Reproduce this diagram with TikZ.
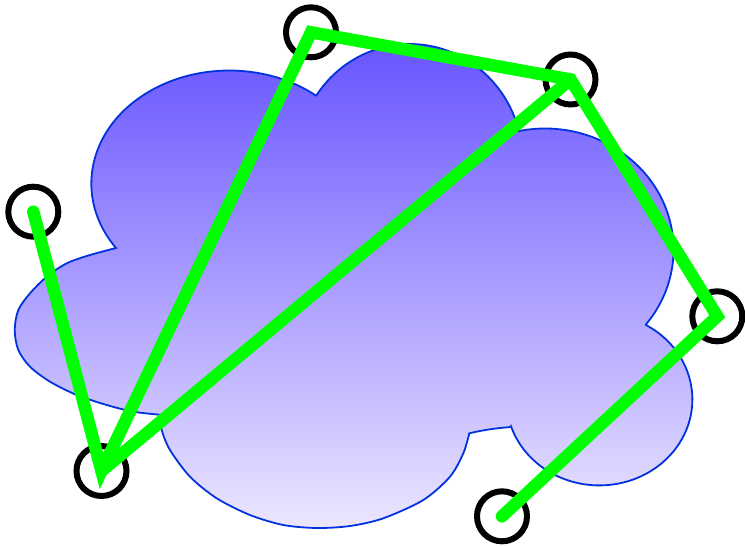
\documentclass[tikz,border=0pt]{standalone}
\definecolor{cloudtop}{RGB}{100,80,255}
\definecolor{cloudbot}{RGB}{236,230,255}
\definecolor{cloudline}{RGB}{0,51,221}
\definecolor{linegreen}{RGB}{0,255,0}
\begin{document}
\begin{tikzpicture}[x=1pt,y=-1pt,
  marker/.style={circle, draw=black, line width=6pt, minimum size=50pt, inner sep=0pt},
  greenline/.style={draw=linegreen, line width=12.5pt, line join=miter, line cap=round},
  cloudstyle/.style={draw=cloudline, line width=1.8pt, top color=cloudtop, bottom color=cloudbot}]
\fill[white] (0,0) rectangle (745,546);
\useasboundingbox (0,0) rectangle (745,546);
% cloud
\shadedraw[cloudstyle] (116,248)
  arc[start angle=214.8, end angle=51, x radius=138pt, y radius=113pt] -- (316,96)
  arc[start angle=146.5, end angle=14.5, x radius=112.6pt, y radius=116pt] -- (519,131)
  arc[start angle=101.6, end angle=-38.3, x radius=128.7pt, y radius=121pt] -- (646,325)
  arc[start angle=59.9, end angle=-161.6, x radius=93pt, y radius=86pt] -- (511,427)
  .. controls (497,428) and (483,430) .. (469.3,433.3)
  -- plot[smooth] coordinates {(469.3,433.3) (463.3,453.3) (450,476.7) (423.3,500) (383.3,518.3) (350,526) (316.7,528) (283.3,525) (250,515) (216.7,498.3) (190,476.7) (170,450) (161.7,430) (160.5,414.8)}
  -- plot[smooth] coordinates {(160.5,414.8) (133.3,411.7) (106.7,405) (76.7,395) (50,381.7) (30,366.7) (18.3,350) (14.7,330) (18.3,310) (30,293.3) (46.7,276.7) (66.7,263.3) (90,255) (116,248)}
  -- cycle;
% markers
\node[marker] (p1) at (33.3,211.7) {};
\node[marker] (p2) at (101.5,471) {};
\node[marker] (p3) at (311,32.3) {};
\node[marker] (p4) at (570.5,79.5) {};
\node[marker] (p5) at (717.3,316.3) {};
\node[marker] (p6) at (502,516.3) {};
% green polyline
\draw[greenline] (p1.center) -- (p2.center) -- (p3.center) -- (p4.center) -- (p5.center) -- (p6.center);
\draw[greenline] (p2.center) -- (p4.center);
\end{tikzpicture}
\end{document}
